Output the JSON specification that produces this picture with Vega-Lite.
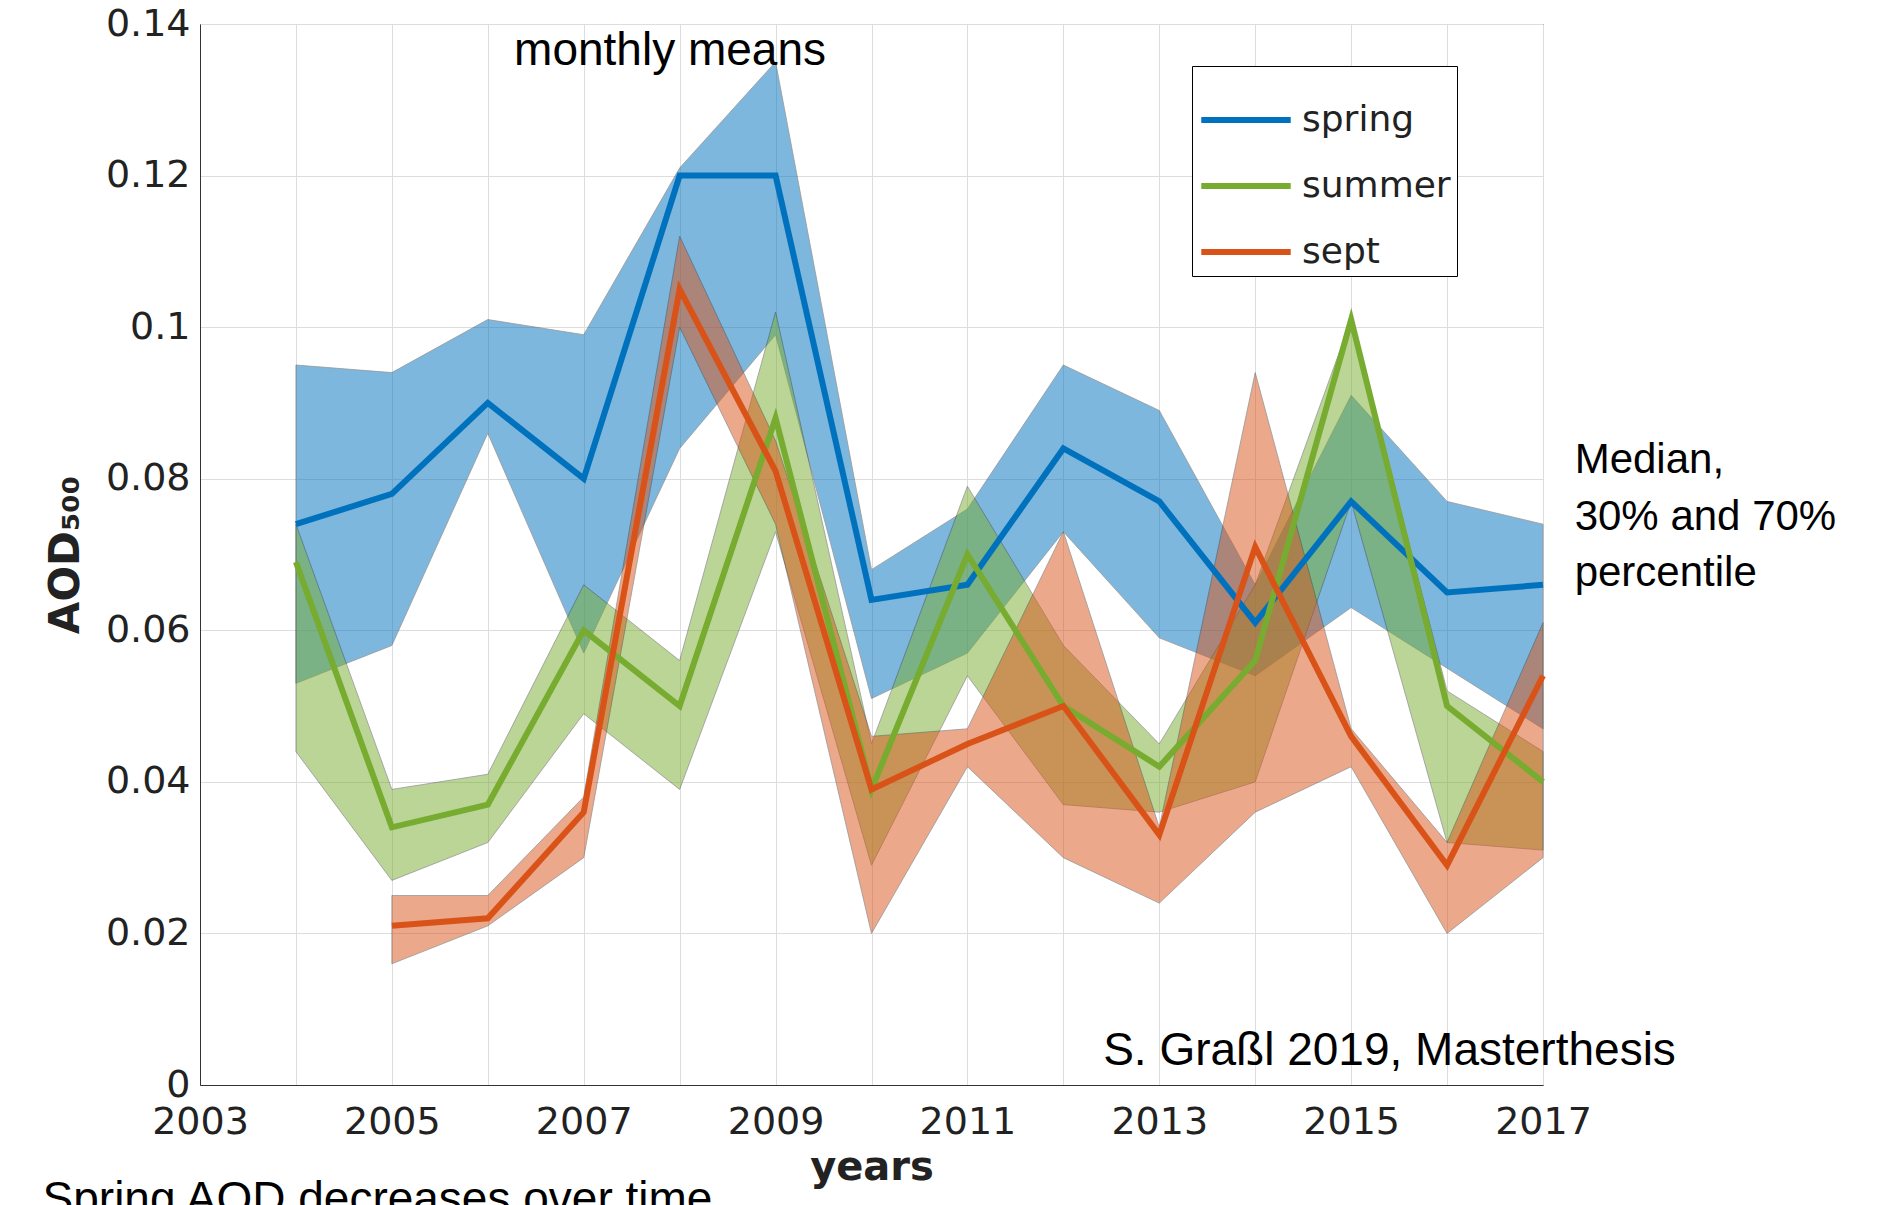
{
  "$schema": "https://vega.github.io/schema/vega-lite/v6.json",
  "width": 1343,
  "height": 1061,
  "autosize": "none",
  "padding": {"left": 200, "top": 24, "right": 335, "bottom": 120},
  "background": "white",
  "datasets": {
    "aod": [
      {"year": 2004, "season": "spring", "median": 0.074, "lo": 0.053, "hi": 0.095},
      {"year": 2005, "season": "spring", "median": 0.078, "lo": 0.058, "hi": 0.094},
      {"year": 2006, "season": "spring", "median": 0.090, "lo": 0.086, "hi": 0.101},
      {"year": 2007, "season": "spring", "median": 0.080, "lo": 0.057, "hi": 0.099},
      {"year": 2008, "season": "spring", "median": 0.120, "lo": 0.084, "hi": 0.121},
      {"year": 2009, "season": "spring", "median": 0.120, "lo": 0.099, "hi": 0.135},
      {"year": 2010, "season": "spring", "median": 0.064, "lo": 0.051, "hi": 0.068},
      {"year": 2011, "season": "spring", "median": 0.066, "lo": 0.057, "hi": 0.076},
      {"year": 2012, "season": "spring", "median": 0.084, "lo": 0.073, "hi": 0.095},
      {"year": 2013, "season": "spring", "median": 0.077, "lo": 0.059, "hi": 0.089},
      {"year": 2014, "season": "spring", "median": 0.061, "lo": 0.054, "hi": 0.066},
      {"year": 2015, "season": "spring", "median": 0.077, "lo": 0.063, "hi": 0.091},
      {"year": 2016, "season": "spring", "median": 0.065, "lo": 0.055, "hi": 0.077},
      {"year": 2017, "season": "spring", "median": 0.066, "lo": 0.047, "hi": 0.074},
      {"year": 2004, "season": "summer", "median": 0.069, "lo": 0.044, "hi": 0.074},
      {"year": 2005, "season": "summer", "median": 0.034, "lo": 0.027, "hi": 0.039},
      {"year": 2006, "season": "summer", "median": 0.037, "lo": 0.032, "hi": 0.041},
      {"year": 2007, "season": "summer", "median": 0.060, "lo": 0.049, "hi": 0.066},
      {"year": 2008, "season": "summer", "median": 0.050, "lo": 0.039, "hi": 0.056},
      {"year": 2009, "season": "summer", "median": 0.088, "lo": 0.073, "hi": 0.102},
      {"year": 2010, "season": "summer", "median": 0.039, "lo": 0.029, "hi": 0.045},
      {"year": 2011, "season": "summer", "median": 0.070, "lo": 0.054, "hi": 0.079},
      {"year": 2012, "season": "summer", "median": 0.050, "lo": 0.037, "hi": 0.058},
      {"year": 2013, "season": "summer", "median": 0.042, "lo": 0.036, "hi": 0.045},
      {"year": 2014, "season": "summer", "median": 0.056, "lo": 0.040, "hi": 0.066},
      {"year": 2015, "season": "summer", "median": 0.101, "lo": 0.077, "hi": 0.101},
      {"year": 2016, "season": "summer", "median": 0.050, "lo": 0.032, "hi": 0.052},
      {"year": 2017, "season": "summer", "median": 0.040, "lo": 0.031, "hi": 0.044},
      {"year": 2005, "season": "sept", "median": 0.021, "lo": 0.016, "hi": 0.025},
      {"year": 2006, "season": "sept", "median": 0.022, "lo": 0.021, "hi": 0.025},
      {"year": 2007, "season": "sept", "median": 0.036, "lo": 0.030, "hi": 0.038},
      {"year": 2008, "season": "sept", "median": 0.105, "lo": 0.100, "hi": 0.112},
      {"year": 2009, "season": "sept", "median": 0.081, "lo": 0.074, "hi": 0.085},
      {"year": 2010, "season": "sept", "median": 0.039, "lo": 0.020, "hi": 0.046},
      {"year": 2011, "season": "sept", "median": 0.045, "lo": 0.042, "hi": 0.047},
      {"year": 2012, "season": "sept", "median": 0.050, "lo": 0.030, "hi": 0.073},
      {"year": 2013, "season": "sept", "median": 0.033, "lo": 0.024, "hi": 0.034},
      {"year": 2014, "season": "sept", "median": 0.071, "lo": 0.036, "hi": 0.094},
      {"year": 2015, "season": "sept", "median": 0.046, "lo": 0.042, "hi": 0.047},
      {"year": 2016, "season": "sept", "median": 0.029, "lo": 0.020, "hi": 0.032},
      {"year": 2017, "season": "sept", "median": 0.054, "lo": 0.030, "hi": 0.061}
    ],
    "notesCenter": [
      {"year": 2007.9, "v": 0.1365, "label": "monthly means"},
      {"year": 2015.4, "v": 0.0045, "label": "S. Graßl 2019, Masterthesis"},
      {"year": 2004.85, "v": -0.0152, "label": "Spring AOD decreases over time"}
    ],
    "notesLeft": [
      {"year": 2017.33, "v": 0.0825, "label": "Median,"},
      {"year": 2017.33, "v": 0.075, "label": "30% and 70%"},
      {"year": 2017.33, "v": 0.0675, "label": "percentile"}
    ]
  },
  "layer": [
    {
      "data": {"name": "aod"},
      "mark": {"type": "area", "opacity": 0.5, "stroke": "#333333", "strokeWidth": 1, "strokeOpacity": 0.8},
      "encoding": {
        "x": {"field": "year", "type": "quantitative"},
        "y": {"field": "lo", "type": "quantitative"},
        "y2": {"field": "hi"},
        "color": {"field": "season", "type": "nominal",
          "scale": {"domain": ["spring", "summer", "sept"], "range": ["#0072BD", "#77AC30", "#D95319"]},
          "legend": {"title": null, "orient": "none", "legendX": 992, "legendY": 42,
            "symbolType": "stroke", "symbolSize": 8000, "symbolStrokeWidth": 6, "symbolOpacity": 1,
            "labelFontSize": 36, "rowPadding": 0, "padding": 6, "labelOffset": 8,
            "strokeColor": "black", "fillColor": "white"}},
        "detail": {"field": "season"}
      }
    },
    {
      "data": {"name": "aod"},
      "mark": {"type": "line", "strokeWidth": 6},
      "encoding": {
        "x": {"field": "year", "type": "quantitative",
          "scale": {"domain": [2003, 2017], "nice": false, "zero": false},
          "axis": {"values": [2003,2004,2005,2006,2007,2008,2009,2010,2011,2012,2013,2014,2015,2016,2017],
            "labelExpr": "datum.value % 2 == 1 ? datum.value : ''", "format": "d",
            "title": "years", "titleFontSize": 40, "titleFontWeight": "bold", "titlePadding": 6,
            "labelFontSize": 38, "labelPadding": 18, "tickSize": 0, "labelOverlap": false, "labelFlush": false}},
        "y": {"field": "median", "type": "quantitative",
          "scale": {"domain": [0, 0.14], "nice": false},
          "axis": {"values": [0, 0.02, 0.04, 0.06, 0.08, 0.1, 0.12, 0.14],
            "labelExpr": "datum.value == 0 ? '0' : format(datum.value, '.2~f')",
            "title": "AOD₅₀₀", "titleFontSize": 42, "titleFontWeight": "bold", "titlePadding": 18,
            "labelFontSize": 38, "labelPadding": 10, "tickSize": 0, "labelFlush": false}},
        "color": {"field": "season", "type": "nominal"}
      }
    },
    {
      "data": {"name": "notesCenter"},
      "mark": {"type": "text", "fontSize": 46, "font": "Liberation Sans", "color": "black", "clip": false, "baseline": "middle", "align": "center"},
      "encoding": {
        "x": {"field": "year", "type": "quantitative"},
        "y": {"field": "v", "type": "quantitative"},
        "text": {"field": "label"}
      }
    },
    {
      "data": {"name": "notesLeft"},
      "mark": {"type": "text", "fontSize": 42, "font": "Liberation Sans", "color": "black", "clip": false, "baseline": "middle", "align": "left"},
      "encoding": {
        "x": {"field": "year", "type": "quantitative"},
        "y": {"field": "v", "type": "quantitative"},
        "text": {"field": "label"}
      }
    }
  ],
  "config": {
    "font": "DejaVu Sans",
    "view": {"stroke": "#333333"},
    "axis": {"gridColor": "#dddddd", "domainColor": "#333333", "labelColor": "#222222", "titleColor": "#222222"},
    "legend": {"labelColor": "#222222"}
  }
}
